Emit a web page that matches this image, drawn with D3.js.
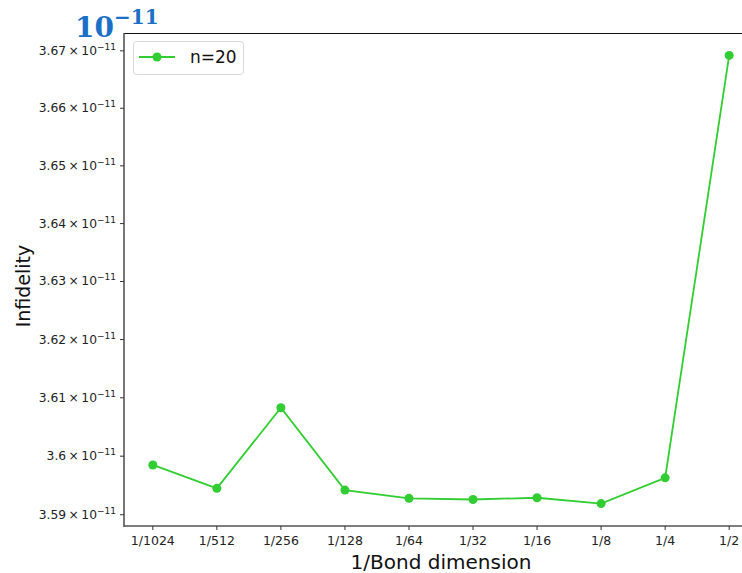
<!DOCTYPE html>
<meta charset="utf-8">
<style>
body { margin: 0; background: #fff; }
text { font-family: "DejaVu Sans", sans-serif; }
</style>
<body>
<script src="https://cdn.jsdelivr.net/npm/d3@7"></script>
<script>

// data
var bondLabels = ["1/1024", "1/512", "1/256", "1/128", "1/64", "1/32", "1/16", "1/8", "1/4", "1/2"];
var bondValues = [1/1024, 1/512, 1/256, 1/128, 1/64, 1/32, 1/16, 1/8, 1/4, 1/2];
var infidelity = [3.5985e-11, 3.5945e-11, 3.6083e-11, 3.5942e-11, 3.5928e-11, 3.5926e-11, 3.5929e-11, 3.5919e-11, 3.5963e-11, 3.6692e-11];
var yTicks = [3.59e-11, 3.60e-11, 3.61e-11, 3.62e-11, 3.63e-11, 3.64e-11, 3.65e-11, 3.66e-11, 3.67e-11];
var yTickLabels = ["3.59", "3.6", "3.61", "3.62", "3.63", "3.64", "3.65", "3.66", "3.67"];
var seriesName = "n=20";

var width = 742, height = 573;
var plotLeft = 124, plotTop = 33, plotBottom = 526, plotRight = 758;
var green = "#32cd32";

var svg = d3.select("body").append("svg")
    .attr("width", width)
    .attr("height", height);

// matplotlib style 5% margins, in log space
function padLog(lo, hi, base) {
  var a = Math.log(lo) / Math.log(base), b = Math.log(hi) / Math.log(base);
  var m = (b - a) * 0.05;
  return [Math.pow(base, a - m), Math.pow(base, b + m)];
}

var x = d3.scaleLog().base(2)
    .domain(padLog(d3.min(bondValues), d3.max(bondValues), 2))
    .range([plotLeft, plotRight]);

var y = d3.scaleLog()
    .domain(padLog(d3.min(infidelity), d3.max(infidelity), 10))
    .range([plotBottom, plotTop]);

// spines
svg.append("line").attr("x1", plotLeft).attr("x2", width).attr("y1", plotTop + 0.5).attr("y2", plotTop + 0.5)
    .attr("stroke", "#111").attr("stroke-width", 1);
svg.append("line").attr("x1", plotLeft).attr("x2", plotLeft).attr("y1", plotTop).attr("y2", plotBottom + 1)
    .attr("stroke", "#555").attr("stroke-width", 1.6);
svg.append("line").attr("x1", plotLeft).attr("x2", width).attr("y1", plotBottom).attr("y2", plotBottom)
    .attr("stroke", "#555").attr("stroke-width", 1.6);

// y ticks
var yt = svg.append("g").selectAll("g")
    .data(yTicks)
    .enter().append("g")
    .attr("transform", function(d) { return "translate(0," + y(d) + ")"; });

yt.append("line").attr("x1", plotLeft - 4).attr("x2", plotLeft).attr("stroke", "#333");

var ylab = yt.append("text")
    .attr("x", plotLeft - 8)
    .attr("y", 4)
    .attr("text-anchor", "end")
    .style("font-size", "12.3px")
    .style("fill", "#222");
ylab.append("tspan").text(function(d, i) { return yTickLabels[i] + "\u2009\u00d7\u200910"; });
ylab.append("tspan").attr("dy", -5).style("font-size", "9px").text("\u221211");

// x ticks
var xt = svg.append("g").selectAll("g")
    .data(bondValues)
    .enter().append("g")
    .attr("transform", function(d) { return "translate(" + x(d) + ",0)"; });

xt.append("line").attr("y1", plotBottom).attr("y2", plotBottom + 4).attr("stroke", "#333");
xt.append("text")
    .attr("y", plotBottom + 19)
    .attr("text-anchor", "middle")
    .style("font-size", "12.5px")
    .style("fill", "#222")
    .text(function(d, i) { return bondLabels[i]; });

// axis titles
svg.append("text")
    .attr("x", 441).attr("y", 569)
    .attr("text-anchor", "middle")
    .style("font-size", "20px")
    .style("fill", "#111")
    .text("1/Bond dimension");

svg.append("text")
    .attr("transform", "translate(30," + 286 + ") rotate(-90)")
    .attr("text-anchor", "middle")
    .style("font-size", "19px")
    .style("fill", "#111")
    .text("Infidelity");

// exponent badge
var badge = svg.append("text")
    .attr("x", 75).attr("y", 37)
    .style("font-family", "'DejaVu Serif', 'Liberation Serif', serif")
    .style("font-weight", "bold")
    .style("font-size", "28px")
    .style("fill", "#1a70c6");
badge.append("tspan").text("10");
badge.append("tspan").attr("dy", -13).style("font-size", "20px").text("\u221211");

// the series
var line = d3.line()
    .x(function(d, i) { return x(bondValues[i]); })
    .y(function(d) { return y(d); });

svg.append("path")
    .datum(infidelity)
    .attr("d", line)
    .attr("fill", "none")
    .attr("stroke", green)
    .attr("stroke-width", 1.8);

svg.append("g").selectAll("circle")
    .data(infidelity)
    .enter().append("circle")
    .attr("cx", function(d, i) { return x(bondValues[i]); })
    .attr("cy", function(d) { return y(d); })
    .attr("r", 4.5)
    .attr("fill", green);

// legend
var legend = svg.append("g").attr("class", "legend");
legend.append("rect")
    .attr("x", 133.5).attr("y", 41.5)
    .attr("width", 110).attr("height", 33)
    .attr("rx", 3)
    .attr("fill", "white")
    .attr("stroke", "#d8d8d8");
legend.append("line")
    .attr("x1", 139).attr("x2", 175).attr("y1", 57).attr("y2", 57)
    .attr("stroke", green).attr("stroke-width", 1.8);
legend.append("circle")
    .attr("cx", 157).attr("cy", 57).attr("r", 4.5).attr("fill", green);
legend.append("text")
    .attr("x", 190).attr("y", 63)
    .style("font-size", "17px")
    .style("fill", "#111")
    .text(seriesName);

</script>
</body>
